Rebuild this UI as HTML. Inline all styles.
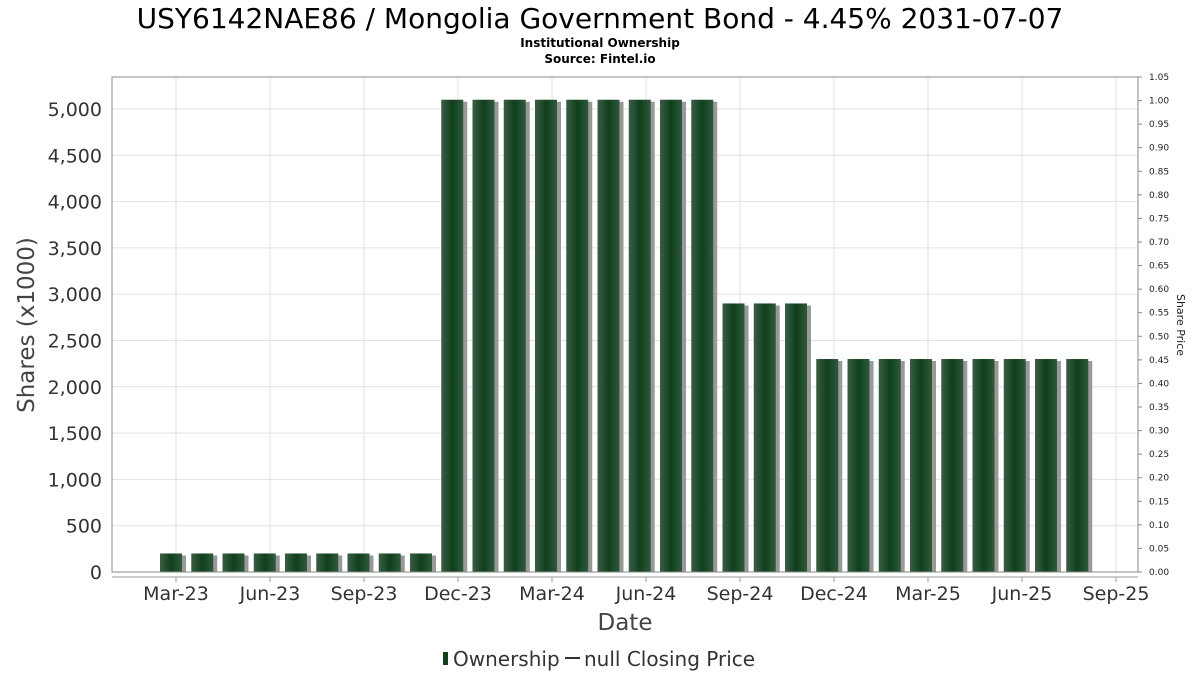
<!DOCTYPE html>
<html><head><meta charset="utf-8"><style>
body{margin:0;background:#fff;font-family:"DejaVu Sans","Liberation Sans",sans-serif;}
svg text{font-family:"DejaVu Sans","Liberation Sans",sans-serif;}
</style></head><body>
<svg id="chart" width="1200" height="675" xmlns="http://www.w3.org/2000/svg">
<defs>
<linearGradient id="bg" x1="0" x2="1" y1="0" y2="0">
<stop offset="0" stop-color="#3a5e45"/><stop offset="0.5" stop-color="#0f3f1c"/><stop offset="1" stop-color="#2f5a3c"/>
</linearGradient>
</defs>
<text x="600" y="28" text-anchor="middle" font-size="28" fill="#000">USY6142NAE86 / Mongolia Government Bond - 4.45% 2031-07-07</text>
<text x="600" y="47" text-anchor="middle" font-size="12" font-weight="bold">Institutional Ownership</text>
<text x="600" y="63" text-anchor="middle" font-size="12" font-weight="bold">Source: Fintel.io</text>
<g id="grid"></g>
<g id="bars"></g>
<rect x="112" y="77" width="1026" height="495" fill="none" stroke="#888" stroke-width="1"/>
<line x1="112" y1="577" x2="1138" y2="577" stroke="#999"/>
<g id="axes"></g>
<text transform="translate(34,325) rotate(-90)" text-anchor="middle" font-size="23" fill="#444">Shares (x1000)</text>
<text transform="translate(1177,325) rotate(90)" text-anchor="middle" font-size="11" fill="#222">Share Price</text>
<text x="625" y="630" text-anchor="middle" font-size="23" fill="#444">Date</text>
<g>
<rect x="443" y="652" width="5" height="13" fill="#0f3f1c"/>
<text x="453" y="666" font-size="20" fill="#333">Ownership</text>
<line x1="565" y1="658" x2="580" y2="658" stroke="#333" stroke-width="2"/>
<text x="584" y="666" font-size="20" fill="#333">null Closing Price</text>
</g>
</svg>
<script>
const barValues=[200,200,200,200,200,200,200,200,200,5100,5100,5100,5100,5100,5100,5100,5100,5100,2900,2900,2900,2300,2300,2300,2300,2300,2300,2300,2300,2300];
const yTicks=[0,500,1000,1500,2000,2500,3000,3500,4000,4500,5000];
const y2Ticks=[0,0.05,0.1,0.15,0.2,0.25,0.3,0.35,0.4,0.45,0.5,0.55,0.6,0.65,0.7,0.75,0.8,0.85,0.9,0.95,1.0,1.05];
const xLabels=["Mar-23","Jun-23","Sep-23","Dec-23","Mar-24","Jun-24","Sep-24","Dec-24","Mar-25","Jun-25","Sep-25"];
const NS="http://www.w3.org/2000/svg";
const y=v=>572-v*(463/5000);
const y2=v=>572-v*(495/1.05);
const xb=i=>171+i*31.25;
const xt=i=>176+i*94;
function mk(t,a,p){const e=document.createElementNS(NS,t);for(const k in a)e.setAttribute(k,a[k]);p.appendChild(e);return e;}
const grid=document.getElementById('grid'),bars=document.getElementById('bars'),axes=document.getElementById('axes');
yTicks.forEach(v=>{
const l=mk('line',{x1:112,x2:1138,y1:y(v),y2:y(v),stroke:'#e2e2e2'},grid);


const t=mk('text',{x:102,y:y(v)+7,'text-anchor':'end','font-size':19,fill:'#333'},axes);
t.textContent=v.toLocaleString('en-US');


});
xLabels.forEach((s,i)=>{
const l=mk('line',{x1:xt(i),x2:xt(i),y1:77,y2:572,stroke:'#e2e2e2'},grid);


mk('line',{x1:xt(i),x2:xt(i),y1:577,y2:582,stroke:'#999'},axes);
const t=mk('text',{x:xt(i),y:600,'text-anchor':'middle','font-size':19,fill:'#333'},axes);
t.textContent=s;


});
y2Ticks.forEach(v=>{
mk('line',{x1:1138,x2:1142,y1:y2(v),y2:y2(v),stroke:'#888'},axes);
const t=mk('text',{x:1149,y:y2(v)+3,'font-size':9,fill:'#222'},axes);
t.textContent=v.toFixed(2);


});
barValues.forEach((v,i)=>{
const s=mk('rect',{x:xb(i)-11+4,y:y(v)+2,width:22,height:572-y(v)-2,fill:'#999'},bars);


const b=mk('rect',{x:xb(i)-11,y:y(v),width:22,height:572-y(v),fill:'url(#bg)'},bars);


});
</script>
</body></html>
